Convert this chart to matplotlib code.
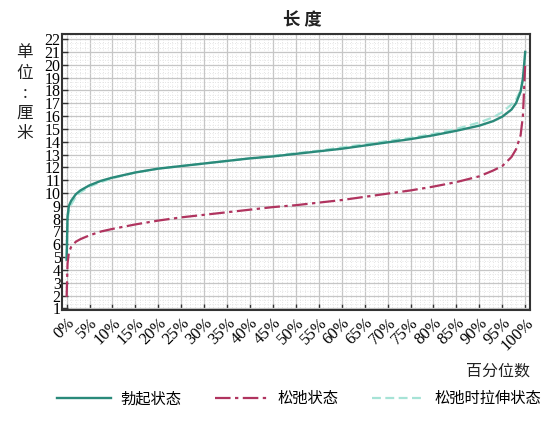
import matplotlib
matplotlib.use("Agg")
import matplotlib.pyplot as plt
from matplotlib.ticker import MultipleLocator

# percentile positions (%) and length (cm)
pct = [0, 0.2, 0.5, 1, 2, 3, 5, 7.5, 10, 15, 20, 25, 30, 35, 40, 45, 50,
       55, 60, 65, 70, 75, 80, 85, 90, 93, 95, 97, 98, 99, 99.5, 100]

erect = [4.8, 8.2, 9.0, 9.4, 9.9, 10.2, 10.6, 10.95, 11.2, 11.6, 11.9, 12.1,
         12.3, 12.5, 12.7, 12.85, 13.05, 13.25, 13.45, 13.7, 13.95, 14.2,
         14.5, 14.85, 15.25, 15.6, 15.95, 16.5, 17.0, 17.9, 18.9, 21.0]

flaccid = [1.9, 4.5, 5.4, 5.8, 6.2, 6.4, 6.7, 7.0, 7.2, 7.55, 7.85, 8.1,
           8.3, 8.5, 8.7, 8.9, 9.05, 9.25, 9.45, 9.7, 9.95, 10.2, 10.5,
           10.85, 11.3, 11.75, 12.1, 12.8, 13.4, 14.5, 16.0, 20.0]

stretched = [4.9, 7.8, 8.6, 9.1, 9.7, 10.05, 10.5, 10.85, 11.15, 11.6, 11.9,
             12.1, 12.3, 12.5, 12.7, 12.9, 13.1, 13.3, 13.55, 13.8, 14.05,
             14.3, 14.6, 15.0, 15.5, 15.9, 16.3, 16.9, 17.3, 18.0, 18.8, 20.0]

xticks = list(range(0, 101, 5))
yticks = list(range(1, 23))

cjk = ["Noto Sans CJK SC", "DejaVu Sans"]
serif = "Liberation Serif"

fig = plt.figure(figsize=(5.49, 4.24), dpi=100)
ax = fig.add_axes([0.113, 0.268, 0.852, 0.652])

ax.plot(pct, stretched, color="#a6e3d6", lw=1.6, ls=(0, (4, 2)), label="松弛时拉伸状态", zorder=3)
ax.plot(pct, erect, color="#2a8a7a", lw=1.7, label="勃起状态", zorder=4)
ax.plot(pct, flaccid, color="#b0345f", lw=1.6, ls=(0, (7, 2, 1.5, 2)), label="松弛状态", zorder=4)

ax.set_xlim(-1, 101)
ax.set_ylim(0.85, 22.4)
ax.set_xticks(xticks)
ax.set_xticklabels([f"{t}%" for t in xticks], rotation=45, ha="right",
                   va="top", rotation_mode="anchor", family=serif, fontsize=12)
ax.set_yticks(yticks)
ax.set_yticklabels([str(t) for t in yticks], family=serif, fontsize=11.5)
ax.xaxis.set_minor_locator(MultipleLocator(1))
ax.yaxis.set_minor_locator(MultipleLocator(1 / 3))
ax.tick_params(which="major", direction="in", length=4, width=1, color="#333333", pad=1)
ax.tick_params(which="minor", length=0)
ax.tick_params(axis="x", pad=3)

ax.grid(which="major", color="#c6c6c6", lw=0.9)
ax.grid(which="minor", color="#dedede", lw=0.6, ls=(0, (1, 2)))
ax.set_axisbelow(True)
for s in ax.spines.values():
    s.set_color("#333333")
    s.set_linewidth(1.5)

fig.text(0.55, 0.955, "长 度", family=cjk, fontsize=12.5, fontweight="bold",
         ha="center", va="center", color="#222222")
fig.text(0.045, 0.78, "单\n位\n:\n厘\n米", family=cjk, fontsize=12,
         ha="center", va="center", linespacing=1.25, color="#222222")
fig.text(0.965, 0.125, "百分位数", family=cjk, fontsize=11.5,
         ha="right", va="center", color="#222222")

handles, labels = ax.get_legend_handles_labels()
order = [1, 2, 0]
fig.legend([handles[i] for i in order], [labels[i] for i in order],
           loc="center", bbox_to_anchor=(0.545, 0.06), ncol=3, frameon=False,
           prop={"family": cjk, "size": 11}, handlelength=3.5,
           columnspacing=2.2, handletextpad=0.6)

fig.savefig("out.png", dpi=100, facecolor="white")
